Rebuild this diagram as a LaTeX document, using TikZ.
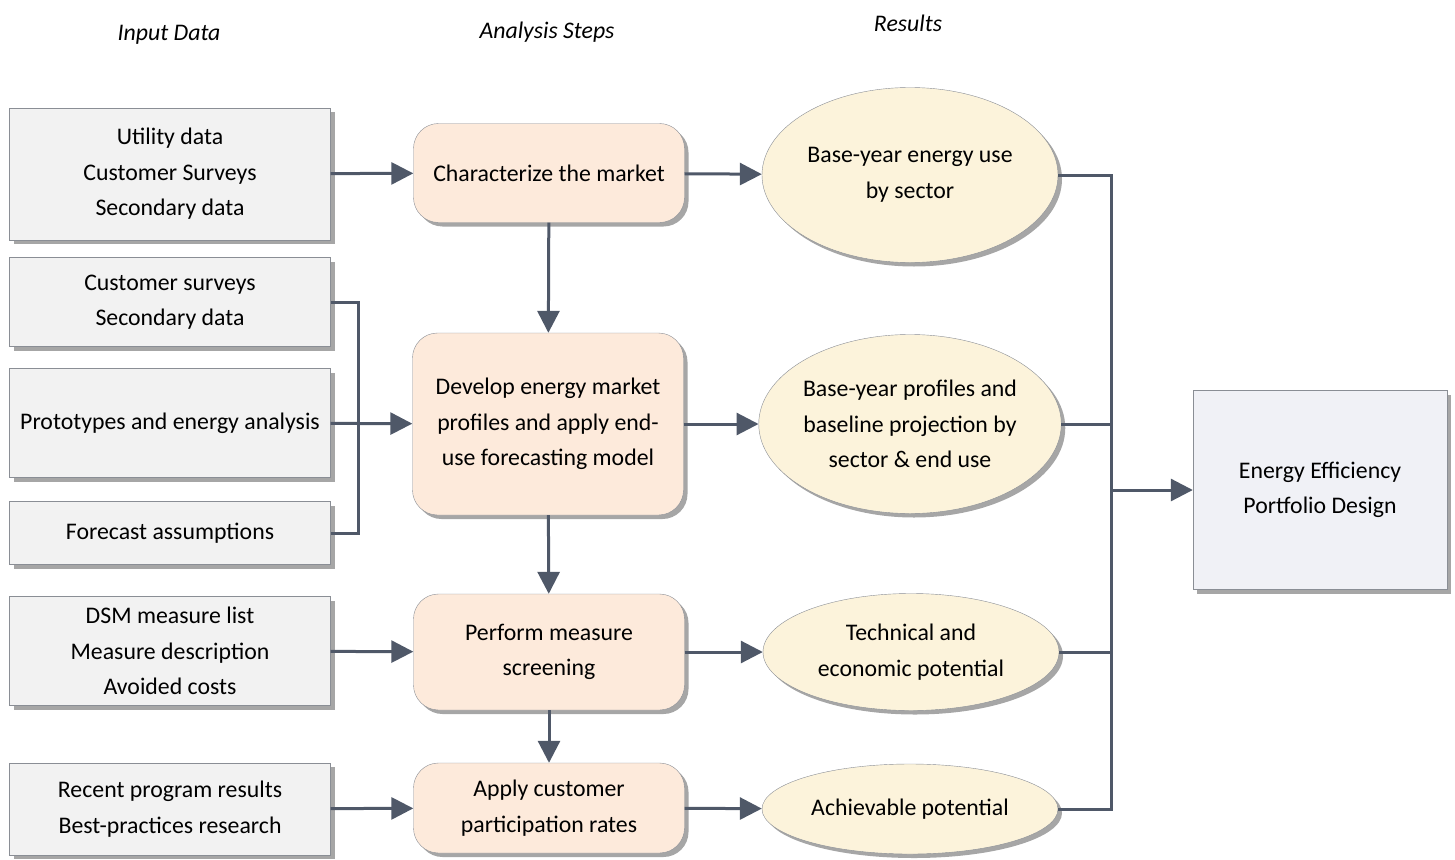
\documentclass[tikz,border=0pt]{standalone}
\usepackage{fontspec}
\setmainfont{Carlito}
\usetikzlibrary{shapes.geometric,shadows,arrows.meta}

\definecolor{linegray}{HTML}{4F5868}
\definecolor{edgegray}{HTML}{8A8E95}
\definecolor{inputfill}{HTML}{F2F2F2}
\definecolor{stepfill}{HTML}{FDEADB}
\definecolor{resultfill}{HTML}{FCF3DB}
\definecolor{outfill}{HTML}{F0F1F6}

\begin{document}
\begin{tikzpicture}[x=1pt, y=-1pt,
    every node/.style = {font=\fontsize{23.8}{35.5}\selectfont, align=center, inner sep=0pt},
    shade/.style = {drop shadow={shadow xshift=4pt, shadow yshift=-4pt, fill=black!35, opacity=1}},
    inbox/.style = {draw=edgegray, fill=inputfill, minimum width=321pt, shade},
    stepbox/.style = {draw=edgegray, fill=stepfill, rounded corners=25pt, minimum width=271pt, shade},
    result/.style = {ellipse, draw=edgegray, fill=resultfill, minimum width=296pt, shade},
    outbox/.style = {draw=edgegray, fill=outfill, minimum width=254pt, minimum height=199pt, shade},
    head/.style = {font=\fontsize{23.8}{30}\selectfont\itshape},
    link/.style = {draw=linegray, line width=3pt},
    arr/.style = {link, -{Stealth[length=22pt, width=22pt, inset=0pt]}}]
  \useasboundingbox (0,0) rectangle (1455,859);

  % column heads
  \node[head] (hin) at (169,35) {Input Data};
  \node[head] (hstep) at (547,32) {Analysis Steps};
  \node[head] (hres) at (908,23) {Results};

  % input data
  \node[inbox, minimum height=132pt] (in1) at (170,174) {Utility data\\Customer Surveys\\Secondary data};
  \node[inbox, minimum height=89pt] (in2) at (170,302) {Customer surveys\\Secondary data};
  \node[inbox, minimum height=109pt] (in3) at (170,423) {Prototypes and energy analysis};
  \node[inbox, minimum height=63pt] (in4) at (170,533) {Forecast assumptions};
  \node[inbox, minimum height=109pt] (in5) at (170,651) {DSM measure list\\Measure description\\Avoided costs};
  \node[inbox, minimum height=92pt] (in6) at (170,809) {Recent program results\\Best-practices research};

  % analysis steps
  \node[stepbox, minimum height=99pt] (step1) at (549,173) {Characterize the market};
  \node[stepbox, minimum height=182pt] (step2) at (548,424) {Develop energy market\\profiles and apply end-\\use forecasting model};
  \node[stepbox, minimum height=116pt] (step3) at (549,652) {Perform measure\\screening};
  \node[stepbox, minimum height=90pt] (step4) at (549,808) {Apply customer\\participation rates};

  % results
  \node[result, minimum height=175pt] (res1) at (910,175) {Base-year energy use\\by sector};
  \node[result, minimum height=179pt] (res2) at (910,424) {Base-year profiles and\\baseline projection by\\sector \& end use};
  \node[result, minimum height=117pt] (res3) at (911,652) {Technical and\\economic potential};
  \node[result, minimum height=90pt] (res4) at (910,809) {Achievable potential};

  \node[outbox] (out) at (1320,490) {Energy Efficiency\\Portfolio Design};

  \coordinate (lbus) at (358,424);
  \coordinate (rbus) at (1111,490);

  % connectors
  \path[every edge/.style={arr}]
    (in1) edge (step1)
    (in3) edge (step2)
    (in5) edge (step3)
    (in6) edge (step4)
    (step1) edge (step2)
    (step2) edge (step3)
    (step3) edge (step4)
    (step1) edge (res1)
    (step2) edge (res2)
    (step3) edge (res3)
    (step4) edge (res4)
    (rbus) edge (out);
  \draw[link] (in2.east) -| (lbus) |- (in4.east);
  \draw[link] (res1.east) -| (rbus) |- (res4.east);
  \draw[link] (res2.east) -- (res2.east -| rbus);
  \draw[link] (res3.east) -- (res3.east -| rbus);
\end{tikzpicture}
\end{document}
